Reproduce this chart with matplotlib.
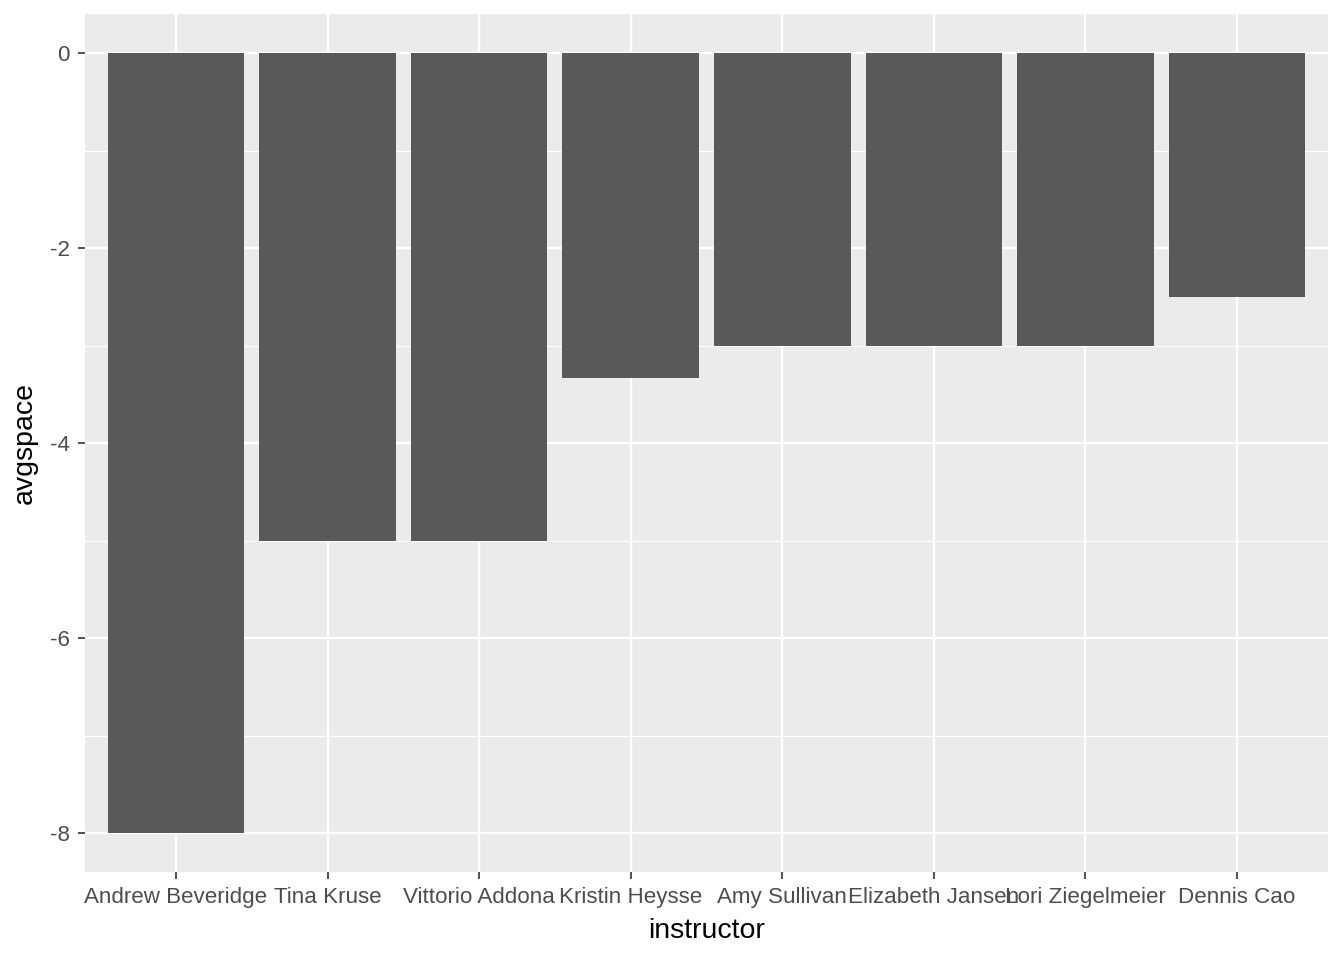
import matplotlib
matplotlib.use("Agg")
import matplotlib.pyplot as plt
from matplotlib.ticker import MultipleLocator

plt.rcParams['font.family'] = ['Liberation Sans', 'DejaVu Sans']

# data
instructors = ['Andrew Beveridge', 'Tina Kruse', 'Vittorio Addona', 'Kristin Heysse',
               'Amy Sullivan', 'Elizabeth Jansen', 'Lori Ziegelmeier', 'Dennis Cao']
avgspace = [-8, -5, -5, -3.333, -3, -3, -3, -2.5]

fig = plt.figure(figsize=(13.44, 9.6), dpi=100)
ax = fig.add_axes([85 / 1344, 88 / 960, (1328 - 85) / 1344, (872 - 14) / 960])

ax.set_facecolor('#EBEBEB')
ax.bar(range(len(instructors)), avgspace, width=0.9, color='#595959', zorder=3)

ax.set_xlim(-0.6, len(instructors) - 0.4)
ax.set_ylim(-8.4, 0.4)

ax.set_xticks(range(len(instructors)))
ax.set_xticklabels(instructors)
ax.yaxis.set_major_locator(MultipleLocator(2))
ax.yaxis.set_minor_locator(MultipleLocator(1))
ax.set_yticklabels([str(int(t)) for t in ax.get_yticks()])

# ggplot-like grid
ax.grid(which='major', color='white', linewidth=1.6, zorder=1)
ax.grid(which='minor', axis='y', color='white', linewidth=0.8, zorder=1)
for s in ax.spines.values():
    s.set_visible(False)

ax.tick_params(axis='both', which='major', length=5.3, width=1.2, color='#333333',
               labelsize=16.1, labelcolor='#4D4D4D', pad=5.5)
ax.tick_params(axis='y', which='minor', length=0)

ax.set_xlabel('instructor', fontsize=20.5, color='black', labelpad=7)
ax.set_ylabel('avgspace', fontsize=20.5, color='black', labelpad=9)

fig.savefig('out.png', dpi=100)
